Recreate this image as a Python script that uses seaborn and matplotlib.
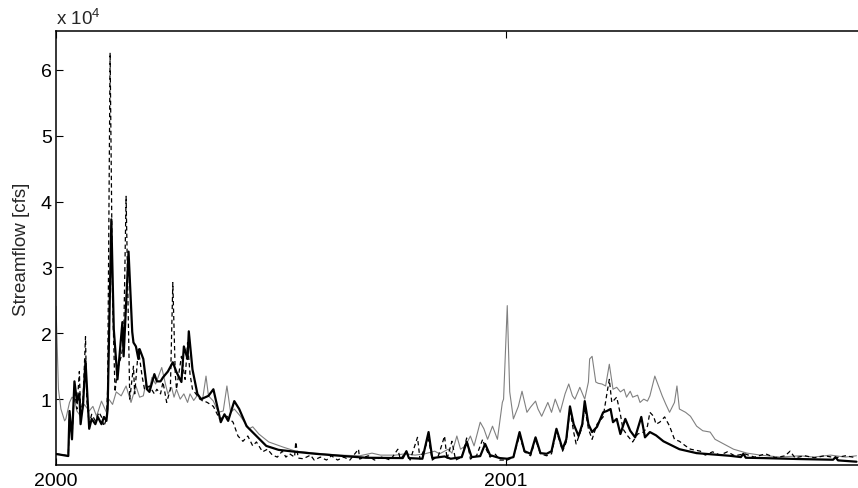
import matplotlib
matplotlib.use("Agg")
import matplotlib.pyplot as plt
import pandas as pd
import seaborn as sns

# Daily streamflow traces (day counted from 1 Jan 2000, flow in cfs)
series_solid = [
    (0, 1670), (5, 1520), (10, 1360), (11, 8200), (13, 3900), (15, 12700), (17, 9700),
    (19, 10800), (20, 6200), (22, 9200), (24, 15800), (27, 5500), (29, 7000), (32, 6200),
    (34, 7300), (37, 6200), (39, 7300), (41, 6700), (42, 8500), (45, 37300), (47, 20600),
    (50, 13000), (54, 21700), (55, 16500), (59, 32400), (62, 20200), (63, 18600),
    (65, 18000), (67, 16100), (68, 17600), (71, 16100), (74, 11500), (76, 11100),
    (80, 13800), (82, 12700), (85, 12700), (87, 13300), (91, 14200), (95, 15600),
    (98, 14100), (102, 12600), (104, 18000), (107, 16100), (108, 20300), (111, 14500),
    (115, 10800), (118, 10000), (124, 10500), (128, 11500), (132, 8200), (134, 6500),
    (137, 7700), (140, 6700), (145, 9700), (149, 8500), (155, 5900), (163, 4400),
    (171, 2900), (181, 2300), (195, 2000), (211, 1700), (231, 1400), (252, 1100),
    (282, 1050), (285, 2100), (287, 1050), (298, 950), (303, 5000), (306, 1050),
    (316, 1300), (321, 950), (330, 1200), (334, 3500), (338, 1200), (345, 1350),
    (349, 3200), (353, 1500), (361, 1050), (367, 950), (372, 1200), (377, 5000),
    (381, 2100), (386, 1700), (390, 4200), (394, 1800), (399, 1700), (403, 2100),
    (407, 5500), (412, 2400), (415, 3900), (418, 8900), (421, 6200), (425, 4400),
    (428, 6200), (430, 9700), (433, 6200), (436, 5000), (440, 5800), (445, 8000),
    (448, 8200), (451, 8500), (453, 6500), (456, 7000), (459, 4700), (463, 7000),
    (467, 5200), (471, 4200), (476, 7300), (479, 4200), (483, 5000), (488, 4500),
    (494, 3600), (507, 2400), (521, 1800), (548, 1400), (557, 1200), (559, 1700),
    (561, 1100), (575, 1050), (605, 900), (632, 800), (634, 1200), (636, 700),
    (651, 500),
]

series_dashed = [
    (0, 1700), (10, 1400), (11, 7700), (13, 4200), (15, 11500), (17, 8500), (19, 14200),
    (20, 7700), (22, 10000), (24, 19500), (25, 10000), (27, 6200), (29, 7700), (32, 6700),
    (35, 8000), (37, 7300), (39, 5900), (41, 7000), (42, 11500), (44, 62600), (46, 25200),
    (48, 11100), (50, 14500), (53, 16500), (55, 18600), (57, 40800), (59, 20600),
    (60, 10000), (63, 15000), (64, 10800), (67, 17600), (70, 13500), (72, 11500),
    (76, 12000), (80, 10800), (82, 11500), (85, 10800), (87, 12600), (90, 9500),
    (93, 11500), (95, 27700), (97, 13800), (98, 11500), (102, 16500), (105, 13000),
    (107, 18600), (109, 13800), (111, 11500), (117, 10000), (123, 9500), (128, 8900),
    (133, 7000), (139, 7400), (144, 6500), (148, 4400), (152, 3600), (156, 4400),
    (160, 2900), (163, 3500), (168, 2000), (172, 2400), (176, 1500), (180, 1200),
    (184, 2100), (187, 1200), (190, 1700), (194, 1200), (195, 3500), (197, 1050),
    (201, 950), (207, 1500), (210, 750), (215, 1200), (220, 750), (224, 1400), (229, 750),
    (234, 1200), (239, 750), (246, 2400), (247, 900), (254, 1400), (259, 750),
    (265, 1200), (272, 750), (278, 2400), (280, 900), (285, 2000), (288, 750),
    (294, 4200), (296, 900), (303, 3900), (306, 750), (311, 1400), (316, 4400),
    (318, 900), (322, 3600), (325, 750), (330, 1200), (334, 4100), (337, 900),
    (342, 1400), (347, 3900), (349, 2700), (353, 1200), (357, 1700), (361, 750),
    (367, 750), (372, 1200), (377, 4500), (381, 2000), (386, 1400), (390, 3900),
    (394, 1700), (399, 1400), (403, 1700), (407, 5200), (412, 2100), (415, 3500),
    (418, 8500), (421, 5000), (423, 3200), (428, 5800), (430, 8800), (433, 5500),
    (436, 3900), (440, 6200), (445, 7300), (448, 10800), (450, 13000), (452, 9500),
    (456, 10300), (459, 7700), (461, 5500), (465, 4400), (469, 3500), (473, 4700),
    (478, 5000), (481, 5900), (483, 8000), (486, 7400), (488, 6200), (491, 6500),
    (495, 7300), (499, 5900), (503, 3900), (507, 3600), (512, 2900), (516, 2400),
    (524, 2100), (528, 1500), (534, 2000), (540, 1500), (546, 2000), (552, 1400),
    (560, 1700), (568, 1200), (577, 1700), (585, 1100), (593, 1400), (597, 2100),
    (601, 1100), (609, 1400), (617, 1100), (625, 1400), (634, 1100), (642, 1400),
    (651, 1100),
]

series_gray = [
    (0, 24100), (2, 11500), (4, 8500), (7, 6700), (8, 7000), (11, 9500), (13, 10300),
    (15, 10000), (17, 8200), (20, 7400), (23, 9200), (27, 8200), (30, 8900), (33, 7400),
    (37, 9700), (41, 8000), (43, 10000), (46, 9200), (49, 11100), (53, 10500),
    (57, 12000), (61, 9500), (65, 12000), (68, 10300), (71, 10500), (73, 12300),
    (76, 11500), (78, 13300), (81, 12300), (84, 13800), (86, 14800), (89, 12300),
    (91, 10800), (94, 11800), (96, 10300), (98, 11500), (101, 10000), (104, 10800),
    (107, 9500), (109, 10800), (112, 9800), (115, 10600), (119, 9700), (122, 13500),
    (124, 10500), (128, 9700), (132, 8000), (136, 8200), (139, 12000), (142, 8000),
    (145, 8500), (150, 7400), (157, 5500), (160, 5800), (165, 4700), (173, 3500),
    (185, 2700), (195, 2100), (211, 1800), (231, 1500), (247, 1400), (257, 1800),
    (264, 1500), (276, 1500), (284, 1700), (292, 1500), (300, 1700), (308, 2100),
    (312, 1700), (319, 2400), (322, 1800), (326, 4400), (329, 2400), (333, 2900),
    (337, 4400), (340, 2900), (345, 6500), (348, 5500), (351, 3900), (355, 5900),
    (359, 3900), (363, 9500), (364, 10000), (367, 24200), (369, 11100), (372, 7000),
    (376, 8900), (379, 11200), (383, 8000), (386, 8800), (390, 9700), (392, 8500),
    (395, 7400), (400, 9500), (403, 8000), (406, 10000), (410, 8000), (414, 10800),
    (417, 12300), (420, 10500), (422, 10000), (426, 11800), (430, 10000), (433, 12600),
    (434, 16100), (436, 16500), (439, 12600), (441, 12400), (444, 12300), (447, 12000),
    (450, 15300), (453, 11500), (456, 11800), (459, 11100), (462, 11500), (464, 10300),
    (467, 11200), (469, 10300), (473, 10600), (475, 9500), (478, 10000), (481, 9700),
    (483, 10500), (487, 13500), (490, 12000), (493, 10500), (496, 9200), (499, 8000),
    (503, 9500), (505, 12000), (507, 8500), (512, 8000), (516, 7400), (521, 5900),
    (526, 5200), (532, 5000), (536, 3900), (540, 3500), (551, 2400), (562, 1800),
    (573, 1500), (589, 1200), (605, 1400), (616, 1200), (630, 1500), (642, 1200),
    (651, 1400),
]

year_ticks = [0, 366]
year_labels = ["2000", "2001"]
flow_ticks = [10000, 20000, 30000, 40000, 50000, 60000]
flow_labels = ["1", "2", "3", "4", "5", "6"]

sns.set_style("white")
plt.rcParams["font.family"] = ["Liberation Sans", "DejaVu Sans"]
plt.rcParams["mathtext.fontset"] = "custom"
plt.rcParams["mathtext.rm"] = "Liberation Sans"

fig = plt.figure(figsize=(8.58, 4.89), dpi=100)
ax = fig.add_axes([56 / 858, 23 / 489, 806 / 858, 434 / 489])

df_gray = pd.DataFrame(series_gray, columns=["day", "cfs"])
df_dash = pd.DataFrame(series_dashed, columns=["day", "cfs"])
df_solid = pd.DataFrame(series_solid, columns=["day", "cfs"])

sns.lineplot(data=df_gray, x="day", y="cfs", ax=ax, color="0.5", linewidth=0.8)
sns.lineplot(data=df_dash, x="day", y="cfs", ax=ax, color="black", linewidth=0.9,
             linestyle=(0, (3.5, 2.5)))
sns.lineplot(data=df_solid, x="day", y="cfs", ax=ax, color="black", linewidth=1.6)

ax.set_xlim(0, 655.5)
ax.set_ylim(0, 65900)
ax.set_xticks(year_ticks)
ax.set_xticklabels(year_labels)
ax.set_yticks(flow_ticks)
ax.set_yticklabels(flow_labels)
ax.set_xlabel("")
ax.set_ylabel("Streamflow [cfs]", fontsize=13.5, labelpad=8)

ax.tick_params(axis="both", direction="in", length=5, width=0.8, labelsize=14,
               top=True, right=False, bottom=True, left=True, colors="black")
ax.tick_params(axis="x", pad=5)
ax.tick_params(axis="y", pad=3)
for side in ["left", "bottom", "top", "right"]:
    ax.spines[side].set_visible(True)
    ax.spines[side].set_color("black")
    ax.spines[side].set_linewidth(1.1)

ax.annotate(r"x 10$^{4}$", xy=(0, 1), xycoords="axes fraction",
            xytext=(0, 2), textcoords="offset points",
            ha="left", va="bottom", fontsize=13.5)

fig.savefig("out.png", dpi=100, facecolor="white")
